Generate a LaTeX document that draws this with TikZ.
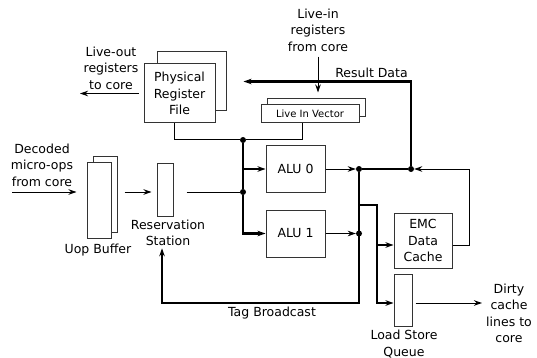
\documentclass[tikz,border=0pt]{standalone}
\usepackage{fontspec}
\setmainfont{DejaVu Sans}
\usetikzlibrary{arrows.meta,positioning,calc}
\definecolor{myframe}{RGB}{51,51,51}

\begin{document}
\begin{tikzpicture}[x=1pt,y=-1pt,
        font=\fontsize{12.5}{16.5}\selectfont,
        >={Stealth[length=8pt,width=5.5pt,inset=2.5pt]},
        blk/.style={draw=myframe,fill=white,line width=1pt,inner sep=0pt,align=center},
        lbl/.style={align=center,inner sep=0pt},
        dot/.style={circle,fill=black,inner sep=0pt,minimum size=6pt},
        wire/.style={line width=1pt},
        bus/.style={line width=2.5pt}
        ]
        \useasboundingbox (0,0) rectangle (537,358);

        % the register file and the live in vector
        \node[blk,minimum width=69pt,minimum height=59pt] (prfb) at (191.5,81.5) {};
        \node[blk,minimum width=71pt,minimum height=59pt] (prf) at (179.5,93.5) {Physical\\Register\\File};
        \node[blk,minimum width=98pt,minimum height=18pt] (livinb) at (316,108) {};
        \node[blk,minimum width=98pt,minimum height=18pt,font=\fontsize{10}{12}\selectfont] (livin) at (310,114) {Live In Vector};

        % the front end
        \node[blk,minimum width=24pt,minimum height=76pt] (uopb) at (105,194) {};
        \node[blk,minimum width=24pt,minimum height=76pt] (uop) at (99,200) {};
        \node[blk,minimum width=16pt,minimum height=53pt] (rs) at (165,189.5) {};

        % the units
        \node[blk,minimum width=59pt,minimum height=46pt] (alu0) at (295.5,169) {ALU 0};
        \node[blk,minimum width=59pt,minimum height=47pt] (alu1) at (295.5,233.5) {ALU 1};
        \node[blk,minimum width=58pt,minimum height=55pt] (emc) at (423,240.5) {EMC\\Data\\Cache};
        \node[blk,minimum width=18pt,minimum height=52pt] (lsq) at (403,300) {};

        % the labels
        \node[lbl] (liveout) at (111,68) {Live-out\\registers\\to core};
        \node[lbl] (livein) at (318,30) {Live-in\\registers\\from core};
        \node[lbl] (resdata) at (371.5,73) {Result Data};
        \node[lbl] (decoded) at (42,165) {Decoded\\micro-ops\\from core};
        \node[lbl] (uoplbl) at (98,250) {Uop Buffer};
        \node[lbl] (rslbl) at (168,233) {Reservation\\Station};
        \node[lbl] (tag) at (272,313) {Tag Broadcast};
        \node[lbl] (lsqlbl) at (404,344) {Load Store\\Queue};
        \node[lbl] (dirty) at (509,313.5) {Dirty\\cache\\lines to\\core};

        % the junctions
        \node[dot] (j1) at (243,140) {};
        \node[dot] (j2) at (243,192) {};
        \node[dot] (j3) at (359,169) {};
        \node[dot] (j4) at (359,233.5) {};
        \node[dot] (j5) at (411,169) {};
        \coordinate (br) at (377,205);
        \coordinate (tb) at (359,303);
        \coordinate (lo) at (80,93.5);
        \coordinate (din) at (12,192);

        % the thin wires
        \draw[wire] ([xshift=-5.5pt]prf.south) |- (j1);
        \draw[wire] ([xshift=-8pt]livin.south) |- (j1);
        \draw[wire,->,shorten <=5pt,shorten >=6pt] (livein.south) -- (livein.south |- livinb.north);
        \draw[wire,->,shorten <=5pt] (prf.west) -- (lo);
        \draw[wire,->,shorten >=10pt] (din) -- (din -| uop.west);
        \draw[wire,->,shorten <=7pt,shorten >=5pt] (uopb.east |- j2) -- (rs.west |- j2);
        \draw[wire,shorten <=13pt] (rs.east |- j2) -- (j2);
        \draw[wire,->] (alu0) -- (j3);
        \draw[wire,->] (alu1) -- (j4);
        \draw[wire,->] ([yshift=-4.5pt]emc.east) -- ++(17,0) |- (j5);
        \draw[wire,->,shorten <=3pt,shorten >=4pt] ([yshift=-3pt]lsq.east) -- ([yshift=-3pt]lsq.east -| dirty.west);

        % the buses
        \draw[bus] (j1) -- (j2);
        \draw[bus,->] (j2) |- (alu1.west);
        \draw[bus,->] (j1 |- alu0.west) -- (alu0.west);
        \draw[bus] (j3) -- (j5);
        \draw[bus,->,shorten >=17pt] (j5) |- (prfb.east);
        \draw[bus,->,shorten >=2pt] (j3) -- (tb) -| ([xshift=-6pt]rslbl.south);
        \draw[bus,->] (j3 |- br) -- (br) |- ([yshift=-3pt]lsq.west);
        \draw[bus,->] (br |- 0,245) -- ([yshift=-4.5pt]emc.west);
\end{tikzpicture}
\end{document}
